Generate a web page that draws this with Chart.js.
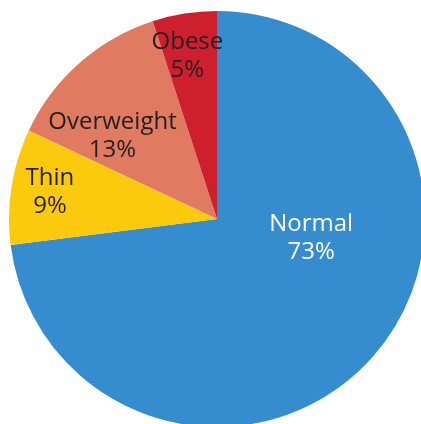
<!DOCTYPE html>
<html>
<head>
<meta charset="utf-8">
<script src="https://cdn.jsdelivr.net/npm/chart.js@4"></script>
<style>
    html, body { margin: 0; padding: 0; background: #ffffff; overflow: hidden; }
    body { width: 421px; height: 424px; position: relative; }
    #caja { position: absolute; left: 9px; top: 11px; width: 416px; height: 416px; }
</style>
</head>
<body>
<div id="caja"><canvas id="pastel-grafica"></canvas></div>
<script>
const categorias = ['Normal', 'Thin', 'Overweight', 'Obese'];
const porcentajes = [73, 9, 13, 5];
const colores = ['#358dcf', '#fcca0c', '#e07b61', '#ce1f2f'];
const coloresTexto = ['#ffffff', '#231f20', '#231f20', '#231f20'];

// donde va cada etiqueta: giro respecto al centro del sector (grados) y fraccion del radio
const ubicaciones = [
    { giro: -29.7, radio: 0.462 },
    { giro: 0, radio: 0.813 },
    { giro: -10.1, radio: 0.642 },
    { giro: -1.3, radio: 0.796 }
];

const etiquetas = {
    id: 'etiquetas',
    afterDatasetsDraw(chart) {
        const ctx = chart.ctx;
        const meta = chart.getDatasetMeta(0);
        ctx.save();
        ctx.font = '24px "Open Sans"';
        ctx.textAlign = 'center';
        ctx.textBaseline = 'middle';
        meta.data.forEach((arco, i) => {
            const p = arco.getProps(['x', 'y', 'startAngle', 'endAngle', 'outerRadius'], true);
            const angulo = (p.startAngle + p.endAngle) / 2 + ubicaciones[i].giro * Math.PI / 180;
            const r = p.outerRadius * ubicaciones[i].radio;
            const x = p.x + Math.cos(angulo) * r;
            const y = p.y + Math.sin(angulo) * r;
            ctx.fillStyle = coloresTexto[i];
            ctx.fillText(categorias[i], x, y - 14);
            ctx.fillText(porcentajes[i] + '%', x, y + 14);
        });
        ctx.restore();
    }
};

const ctx = document.getElementById('pastel-grafica').getContext('2d');
const miGrafica = new Chart(ctx, {
    type: 'pie',
    data: {
        labels: categorias,
        datasets: [{
            data: porcentajes,
            backgroundColor: colores,
            borderWidth: 0
        }]
    },
    options: {
        responsive: true,
        maintainAspectRatio: false,
        animation: false,
        layout: { padding: 0 },
        plugins: {
            legend: { display: false },
            tooltip: { enabled: false }
        }
    },
    plugins: [etiquetas]
});
</script>
</body>
</html>
